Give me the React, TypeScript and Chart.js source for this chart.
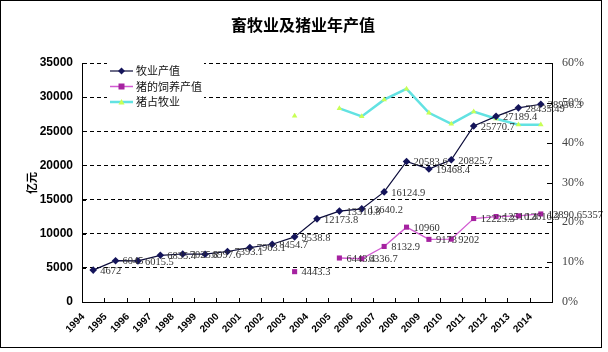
import React, { useEffect, useRef } from "react";
import { Chart, registerables } from "chart.js";

Chart.register(...registerables);

const title = "畜牧业及猪业年产值";
const yTitle = "亿元";
const years = ["1994", "1995", "1996", "1997", "1998", "1999", "2000", "2001", "2002", "2003", "2004", "2005", "2006", "2007", "2008", "2009", "2010", "2011", "2012", "2013", "2014"];
const seriesNames = ["牧业产值", "猪的饲养产值", "猪占牧业"];
const pastoralOutput = [4672, 6045, 6015.5, 6835.4, 7025.8, 6997.6, 7393.1, 7963.1, 8454.7, 9538.8, 12173.8, 13310.8, 13640.2, 16124.9, 20583.6, 19468.4, 20825.7, 25770.7, 27189.4, 28435.49, 28956.3];
const pigOutput = [null, null, null, null, null, null, null, null, null, 4443.3, null, 6443.4, 6336.7, 8132.9, 10960, 9173, 9202, 12225.3, 12510.4, 12616.3, 12890.65357];
const pigShare = [null, null, null, null, null, null, null, null, null, 0.467, null, 0.486, 0.466, 0.508, 0.535, 0.475, 0.447, 0.478, 0.46, 0.445, 0.445];
const leftTicks = { min: 0, max: 35000, step: 5000 };
const rightTicks = { min: 0, max: 0.6, step: 0.1 };

const colors = {
  pastoralLine: "#0b0b3a",
  pastoralPoint: "#14145a",
  pigLine: "#d25ad2",
  pigPoint: "#a522a0",
  shareLine: "#62e2e2",
  sharePoint: "#c8ff55",
};

function drawMarker(ctx: CanvasRenderingContext2D, kind: string, x: number, y: number, r: number, fill: string) {
  ctx.save();
  ctx.fillStyle = fill;
  ctx.beginPath();
  if (kind === "diamond") {
    ctx.moveTo(x, y - r);
    ctx.lineTo(x + r, y);
    ctx.lineTo(x, y + r);
    ctx.lineTo(x - r, y);
    ctx.closePath();
  } else if (kind === "square") {
    ctx.rect(x - r, y - r, 2 * r, 2 * r);
  } else {
    ctx.moveTo(x, y - r);
    ctx.lineTo(x + r, y + r * 0.8);
    ctx.lineTo(x - r, y + r * 0.8);
    ctx.closePath();
  }
  ctx.fill();
  ctx.restore();
}

const decorPlugin = {
  id: "decor",
  beforeDraw(chart: any) {
    const ctx = chart.ctx;
    ctx.save();
    ctx.fillStyle = "#fff";
    ctx.fillRect(0, 0, chart.width, chart.height);
    ctx.restore();
  },
  afterDatasetsDraw(chart: any) {
    const ctx = chart.ctx;
    ctx.save();
    ctx.font = "10.5px 'Liberation Serif', serif";
    ctx.fillStyle = "#333";
    ctx.textAlign = "left";
    ctx.textBaseline = "middle";
    [0, 1].forEach((di) => {
      const meta = chart.getDatasetMeta(di);
      const data = chart.data.datasets[di].data;
      meta.data.forEach((pt: any, j: number) => {
        const v = data[j];
        if (v === null || v === undefined) return;
        ctx.fillText(String(v), pt.x + 7, pt.y + 1);
      });
    });
    ctx.restore();
  },
  afterDraw(chart: any) {
    const ctx = chart.ctx;
    const area = chart.chartArea;
    const xs = chart.scales.x;
    const ys = chart.scales.y;
    const y1 = chart.scales.y1;
    ctx.save();
    ctx.strokeStyle = "#000";
    ctx.lineWidth = 1;
    ctx.beginPath();
    ys.ticks.forEach((t: any) => {
      const py = Math.round(ys.getPixelForValue(t.value)) + 0.5;
      ctx.moveTo(area.left, py);
      ctx.lineTo(area.left + 4, py);
    });
    y1.ticks.forEach((t: any) => {
      const py = Math.round(y1.getPixelForValue(t.value)) + 0.5;
      ctx.moveTo(area.right - 5, py);
      ctx.lineTo(area.right, py);
    });
    const half = (xs.getPixelForValue(1) - xs.getPixelForValue(0)) / 2;
    for (let i = 0; i <= years.length; i++) {
      const px = Math.round(xs.getPixelForValue(i) - half) + 0.5;
      ctx.moveTo(px, area.bottom);
      ctx.lineTo(px, area.bottom - 4);
    }
    ctx.stroke();

    ctx.fillStyle = "#000";
    ctx.font = "bold 16px 'Noto Sans CJK SC', sans-serif";
    ctx.textAlign = "center";
    ctx.textBaseline = "middle";
    ctx.fillText(title, 303, 25);

    ctx.save();
    ctx.translate(32, 183);
    ctx.rotate(-Math.PI / 2);
    ctx.font = "bold 11px 'Noto Sans CJK SC', sans-serif";
    ctx.fillText(yTitle, 0, 0);
    ctx.restore();

    ctx.fillStyle = "#fff";
    ctx.fillRect(107, 59, 97, 53);
    const items = [
      { name: seriesNames[0], line: colors.pastoralLine, lw: 1.2, kind: "diamond", fill: colors.pastoralPoint, r: 3.5 },
      { name: seriesNames[1], line: colors.pigLine, lw: 1.5, kind: "square", fill: colors.pigPoint, r: 3 },
      { name: seriesNames[2], line: colors.shareLine, lw: 2.5, kind: "triangle", fill: colors.sharePoint, r: 3 },
    ];
    items.forEach((it, i) => {
      const ly = 71 + i * 15.5;
      ctx.strokeStyle = it.line;
      ctx.lineWidth = it.lw;
      ctx.beginPath();
      ctx.moveTo(110, ly);
      ctx.lineTo(133, ly);
      ctx.stroke();
      drawMarker(ctx, it.kind, 121.5, ly, it.r, it.fill);
      ctx.fillStyle = "#111";
      ctx.font = "11px 'Noto Sans CJK SC', sans-serif";
      ctx.textAlign = "left";
      ctx.textBaseline = "middle";
      ctx.fillText(it.name, 136, ly);
    });

    ctx.strokeStyle = "#000";
    ctx.lineWidth = 1;
    ctx.strokeRect(0.5, 0.5, 601, 347);
    ctx.restore();
  },
};

export default function App() {
  const ref = useRef<HTMLCanvasElement | null>(null);
  useEffect(() => {
    if (!ref.current) return;
    const chart = new Chart(ref.current, {
      type: "line",
      data: {
        labels: years,
        datasets: [
          {
            label: seriesNames[0],
            data: pastoralOutput,
            yAxisID: "y",
            borderColor: colors.pastoralLine,
            borderWidth: 1.2,
            pointStyle: "rectRot",
            pointRadius: 3.8,
            pointBackgroundColor: colors.pastoralPoint,
            pointBorderColor: colors.pastoralPoint,
            pointBorderWidth: 0,
            tension: 0,
          },
          {
            label: seriesNames[1],
            data: pigOutput,
            yAxisID: "y",
            borderColor: colors.pigLine,
            borderWidth: 1.3,
            pointStyle: "rect",
            pointRadius: 3.6,
            pointBackgroundColor: colors.pigPoint,
            pointBorderColor: colors.pigPoint,
            pointBorderWidth: 0,
            spanGaps: false,
            tension: 0,
          },
          {
            label: seriesNames[2],
            data: pigShare,
            yAxisID: "y1",
            borderColor: colors.shareLine,
            borderWidth: 2.5,
            pointStyle: "triangle",
            pointRadius: 3.2,
            pointBackgroundColor: colors.sharePoint,
            pointBorderColor: colors.sharePoint,
            pointBorderWidth: 0,
            spanGaps: false,
            tension: 0,
          },
        ],
      },
      options: {
        responsive: false,
        animation: false,
        layout: { padding: { top: 63, left: 0, right: 0, bottom: 0 } },
        plugins: { legend: { display: false }, title: { display: false }, tooltip: { enabled: false } },
        scales: {
          x: {
            type: "category",
            offset: true,
            grid: { display: false, drawTicks: false },
            border: { display: true, color: "#000", width: 1 },
            ticks: {
              autoSkip: false,
              minRotation: 45,
              maxRotation: 45,
              padding: 9,
              labelOffset: -10,
              color: "#000",
              font: { size: 10, weight: "bold", family: "'Liberation Sans', sans-serif" },
            },
            afterFit: (s: any) => {
              s.height = 50;
            },
          },
          y: {
            position: "left",
            min: leftTicks.min,
            max: leftTicks.max,
            grid: { color: "#000", lineWidth: 1, drawTicks: false },
            border: { display: true, color: "#000", width: 1, dash: [4, 3] },
            ticks: {
              stepSize: leftTicks.step,
              padding: 9,
              color: "#000",
              font: { size: 12, weight: "bold", family: "'Liberation Sans', sans-serif" },
              callback: (v: any) => String(v),
            },
            afterFit: (s: any) => {
              s.width = 82;
            },
          },
          y1: {
            position: "right",
            min: rightTicks.min,
            max: rightTicks.max,
            grid: { display: false, drawTicks: false },
            border: { display: true, color: "#000", width: 1 },
            ticks: {
              stepSize: rightTicks.step,
              padding: 10,
              color: "#444",
              font: { size: 12, family: "'Liberation Serif', serif" },
              callback: (v: any) => Math.round(Number(v) * 100) + "%",
            },
            afterFit: (s: any) => {
              s.width = 56;
            },
          },
        },
      },
      plugins: [decorPlugin],
    });
    return () => chart.destroy();
  }, []);
  return (
    <div style={{ position: "absolute", left: 0, top: 0, width: 608, height: 352 }}>
      <canvas ref={ref} width={608} height={352} style={{ display: "block", width: 608, height: 352 }} />
    </div>
  );
}
